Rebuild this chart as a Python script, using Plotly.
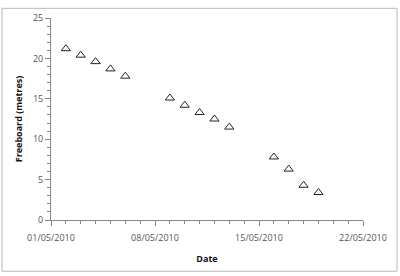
import plotly.graph_objects as go

dates = ["2010-05-02", "2010-05-03", "2010-05-04", "2010-05-05", "2010-05-06",
         "2010-05-09", "2010-05-10", "2010-05-11", "2010-05-12", "2010-05-13",
         "2010-05-16", "2010-05-17", "2010-05-18", "2010-05-19"]
freeboard = [21.2, 20.4, 19.6, 18.7, 17.8,
             15.1, 14.2, 13.3, 12.5, 11.5,
             7.8, 6.3, 4.3, 3.4]
x_ticks = ["2010-05-01", "2010-05-08", "2010-05-15", "2010-05-22"]
x_tick_labels = ["01/05/2010", "08/05/2010", "15/05/2010", "22/05/2010"]
y_ticks = [0, 5, 10, 15, 20, 25]

W, H = 400, 276
L, R, T, B = 51, 37, 11, 56
pw, ph = W - L - R, H - T - B

fig = go.Figure()
fig.add_trace(go.Scatter(
    x=dates, y=freeboard, mode="markers",
    marker=dict(symbol="triangle-up-open", size=8, color="#222222",
                line=dict(width=1, color="#222222")),
    showlegend=False, hoverinfo="skip"))

font = "Open Sans, DejaVu Sans, sans-serif"
fig.update_layout(
    width=W, height=H,
    margin=dict(l=L, r=R, t=T, b=B),
    paper_bgcolor="white", plot_bgcolor="white",
    font=dict(family=font, size=9, color="#555555"),
    xaxis=dict(
        range=["2010-05-01", "2010-05-22"],
        tickvals=x_ticks, ticktext=x_tick_labels,
        showgrid=False, zeroline=False,
        showline=True, linecolor="#868686", linewidth=1,
        ticks="outside", ticklen=5, tickcolor="#868686",
        ticklabelstandoff=4,
        minor=dict(ticks="outside", dtick=86400000, ticklen=3, tickcolor="#868686",
                   tick0="2010-05-01", showgrid=False),
        tickfont=dict(size=9, color="#555555"),
        title=dict(text="<b>Date</b>", font=dict(size=9, color="#111111"), standoff=12),
    ),
    yaxis=dict(
        range=[0, 25], tickvals=y_ticks,
        showgrid=False, zeroline=False,
        showline=True, linecolor="#868686", linewidth=1,
        ticks="outside", ticklen=5, tickcolor="#868686",
        minor=dict(ticks="outside", dtick=1, ticklen=3, tickcolor="#868686", showgrid=False),
        tickfont=dict(size=9, color="#555555"),
        title=dict(text="<b>Freeboard (metres)</b>", font=dict(size=9, color="#111111"), standoff=8),
    ),
    shapes=[dict(type="rect", xref="paper", yref="paper",
                 x0=(2 - L) / pw, x1=(397 - L) / pw,
                 y0=(H - B - 273) / ph, y1=(H - B - 1) / ph,
                 line=dict(color="#b8b8b8", width=1), fillcolor="rgba(0,0,0,0)")],
)

fig.write_html("out.html")
